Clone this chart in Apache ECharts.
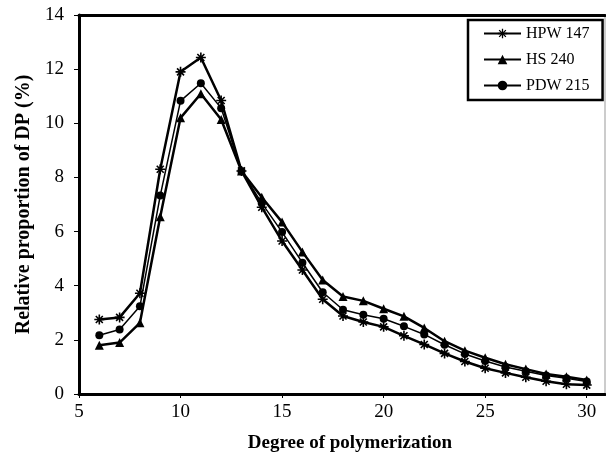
<!DOCTYPE html>
<html>
<head>
<meta charset="utf-8">
<script src="https://cdn.jsdelivr.net/npm/echarts@6/dist/echarts.min.js"></script>
<style>
  html, body { margin: 0; padding: 0; background: #fff; }
  #chart { width: 606px; height: 458px; }
</style>
</head>
<body>
<div id="chart"></div>
<script>
// degree of polymerization (x)
const dp = [6, 7, 8, 9, 10, 11, 12, 13, 14, 15, 16, 17, 18, 19, 20, 21, 22, 23, 24, 25, 26, 27, 28, 29, 30];
const hpw147 = [2.75, 2.83, 3.72, 8.3, 11.9, 12.43, 10.84, 8.24, 6.9, 5.65, 4.58, 3.5, 2.88, 2.66, 2.48, 2.15, 1.83, 1.5, 1.2, 0.95, 0.78, 0.62, 0.47, 0.36, 0.33];
const hs240 = [1.8, 1.9, 2.63, 6.55, 10.2, 11.09, 10.14, 8.24, 7.27, 6.35, 5.25, 4.21, 3.6, 3.44, 3.15, 2.87, 2.44, 1.95, 1.6, 1.34, 1.1, 0.92, 0.74, 0.64, 0.52];
const pdw215 = [2.17, 2.38, 3.24, 7.33, 10.83, 11.48, 10.56, 8.24, 7.05, 5.98, 4.85, 3.76, 3.11, 2.93, 2.78, 2.5, 2.2, 1.82, 1.48, 1.22, 1.0, 0.84, 0.68, 0.58, 0.46];
const xTicks = [5, 10, 15, 20, 25, 30];

const FONT = '"Liberation Serif", "DejaVu Serif", serif';
const ASTERISK = 'path://M0,5 L10,5 M5,0 L5,10 M1.5,1.5 L8.5,8.5 M1.5,8.5 L8.5,1.5';
const pairs = (ys) => dp.map((x, i) => [x, ys[i]]);

const chart = echarts.init(document.getElementById('chart'), null, { renderer: 'canvas' });

const line = (name, ys, symbol, size, width, itemStyle) => ({
  name, type: 'line', data: pairs(ys), symbol, symbolSize: size,
  lineStyle: { color: '#000', width }, itemStyle, emphasis: { disabled: true },
  animation: false,
});

chart.setOption({
  grid: { left: 79, right: 1, top: 15, bottom: 61, show: true, borderColor: '#999', borderWidth: 1 },
  legend: {
    orient: 'vertical', left: 468, top: 20,
    padding: [5, 13, 6, 15], itemGap: 9, itemWidth: 37, itemHeight: 12,
    borderColor: '#000', borderWidth: 2.5,
    textStyle: { fontFamily: FONT, fontSize: 16, color: '#000', lineHeight: 17 },
    data: [
      { name: 'HPW 147', itemStyle: { color: '#fff', borderColor: '#000', borderWidth: 1.3 } },
      'HS 240',
      'PDW 215',
    ],
  },
  xAxis: [{
    type: 'value', min: 5, max: 30.9, interval: 5,
    name: 'Degree of polymerization', nameLocation: 'middle', nameGap: 40,
    nameTextStyle: { fontFamily: FONT, fontSize: 19, fontWeight: 'bold', color: '#000', padding: [0, 0, 0, 16] },
    axisLine: { lineStyle: { color: '#000', width: 3 } },
    axisTick: { customValues: xTicks, length: 4, lineStyle: { color: '#000' } },
    axisLabel: { customValues: xTicks, fontFamily: FONT, fontSize: 19, color: '#000', margin: 9 },
    splitLine: { show: false },
  }, {
    type: 'value', position: 'top', min: 5, max: 30.9,
    axisLine: { lineStyle: { color: '#000', width: 3 } },
    axisTick: { show: false }, axisLabel: { show: false }, splitLine: { show: false },
  }],
  yAxis: {
    type: 'value', min: 0, max: 14, interval: 2,
    name: 'Relative proportion of DP (%)', nameLocation: 'middle', nameGap: 44,
    nameTextStyle: { fontFamily: FONT, fontSize: 20, fontWeight: 'bold', color: '#000' },
    axisLine: { show: true, lineStyle: { color: '#000', width: 3 } },
    axisTick: { show: true, length: 5, lineStyle: { color: '#000' } },
    axisLabel: { fontFamily: FONT, fontSize: 19, color: '#000', margin: 15 },
    splitLine: { show: false },
  },
  series: [
    line('HPW 147', hpw147, ASTERISK, 10, 2.5, { color: '#fff', borderColor: '#000', borderWidth: 1.6 }),
    line('HS 240', hs240, 'triangle', 9, 2.5, { color: '#000' }),
    line('PDW 215', pdw215, 'circle', 8, 1.5, { color: '#000' }),
  ],
});
</script>
</body>
</html>
